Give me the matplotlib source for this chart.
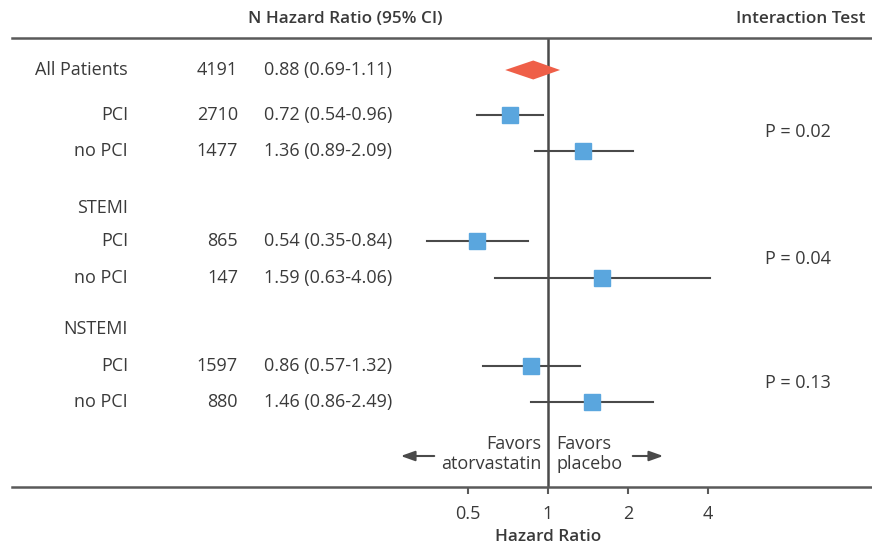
import matplotlib
matplotlib.use("Agg")
import matplotlib.pyplot as plt
import numpy as np
from matplotlib.transforms import blended_transform_factory

plt.rcParams['font.family'] = ['Open Sans', 'DejaVu Sans']

# ---- data ----
labels = ["All Patients", "PCI", "no PCI", "STEMI", "PCI", "no PCI", "NSTEMI", "PCI", "no PCI"]
n_vals = ["4191", "2710", "1477", "", "865", "147", "", "1597", "880"]
hr = [0.88, 0.72, 1.36, None, 0.54, 1.59, None, 0.86, 1.46]
lo = [0.69, 0.54, 0.89, None, 0.35, 0.63, None, 0.57, 0.86]
hi = [1.11, 0.96, 2.09, None, 0.84, 4.06, None, 1.32, 2.49]
p_labels = ["P = 0.02", "P = 0.04", "P = 0.13"]
xticks = [0.5, 1, 2, 4]
xtick_labels = ["0.5", "1", "2", "4"]

# ---- layout ----
W, H = 872, 548
row_y = [70, 115, 151, 208, 241, 278, 329, 366, 402]
p_y = [132, 259, 383]
text_c = "#3a3a3a"
line_c = "#4a4a4a"
blue = "#5aa6de"
red = "#ef5f48"
fs = 13
hfs = 12.3

fig = plt.figure(figsize=(W / 100, H / 100), dpi=100)
ax = fig.add_axes([12 / W, (H - 487) / H, (W - 12) / W, (487 - 38) / H])
ax.set_xscale("log", base=2)
# pixel 548 -> 1, 80 px per doubling
ax.set_xlim(2 ** ((12 - 548) / 80), 2 ** ((W - 548) / 80))
ax.set_ylim(487, 38)

for s in ["left", "right"]:
    ax.spines[s].set_visible(False)
for s in ["top", "bottom"]:
    ax.spines[s].set_color("#5a5a5a")
    ax.spines[s].set_linewidth(1.8)

ax.set_yticks([])
ax.set_xticks(xticks)
ax.set_xticklabels(xtick_labels, fontsize=fs, color=text_c)
ax.xaxis.set_minor_locator(matplotlib.ticker.NullLocator())
ax.tick_params(axis="x", length=5, width=1.5, color="#5a5a5a", pad=8)

# reference line at 1
ax.axvline(1, color=line_c, lw=1.8, zorder=1)

# CI and markers
for i in range(len(labels)):
    if hr[i] is None:
        continue
    y = row_y[i]
    if i == 0:
        h = 9.5
        ax.fill([lo[i], hr[i], hi[i], hr[i]], [y, y - h, y, y + h], color=red, zorder=3, lw=0)
    else:
        ax.plot([lo[i], hi[i]], [y, y], color=line_c, lw=1.5, zorder=2)
        ax.plot([hr[i]], [y], marker="s", color=blue, markersize=11, zorder=3, lw=0)

trans = blended_transform_factory(fig.transFigure, ax.transData)

for i, lab in enumerate(labels):
    ax.text(128 / W, row_y[i], lab, transform=trans, ha="right", va="center",
            fontsize=fs, color=text_c)
    if n_vals[i]:
        ax.text(238 / W, row_y[i], n_vals[i], transform=trans, ha="right", va="center",
                fontsize=fs, color=text_c)
    if hr[i] is not None:
        ax.text(264 / W, row_y[i], f"{hr[i]:.2f} ({lo[i]:.2f}-{hi[i]:.2f})", transform=trans,
                ha="left", va="center", fontsize=fs, color=text_c)

for py, pl in zip(p_y, p_labels):
    ax.text(798 / W, py, pl, transform=trans, ha="center", va="center", fontsize=fs, color=text_c)

# headers
fig.text(248 / W, 1 - 19 / H, "N Hazard Ratio (95% CI)", ha="left", va="center",
         fontsize=hfs, color=text_c, fontweight="semibold")
fig.text(865 / W, 1 - 19 / H, "Interaction Test", ha="right", va="center",
         fontsize=hfs, color=text_c, fontweight="semibold")
fig.text(548 / W, 1 - 537 / H, "Hazard Ratio", ha="center", va="center",
         fontsize=hfs, color=text_c, fontweight="semibold")

# favors text
fig.text(541 / W, 1 - 454 / H, "Favors\natorvastatin", ha="right", va="center",
         fontsize=fs, color=text_c, linespacing=1.1)
fig.text(556 / W, 1 - 454 / H, "Favors\nplacebo", ha="left", va="center",
         fontsize=fs, color=text_c, linespacing=1.1)

arrow_kw = dict(arrowstyle="-|>,head_length=0.7,head_width=0.25", color=line_c, lw=1.5)
fig.add_artist(matplotlib.patches.FancyArrowPatch((437 / W, 1 - 456 / H), (398 / W, 1 - 456 / H),
               transform=fig.transFigure, **arrow_kw, mutation_scale=12))
fig.add_artist(matplotlib.patches.FancyArrowPatch((630 / W, 1 - 456 / H), (666 / W, 1 - 456 / H),
               transform=fig.transFigure, **arrow_kw, mutation_scale=12))

fig.savefig("out.png", dpi=100)
